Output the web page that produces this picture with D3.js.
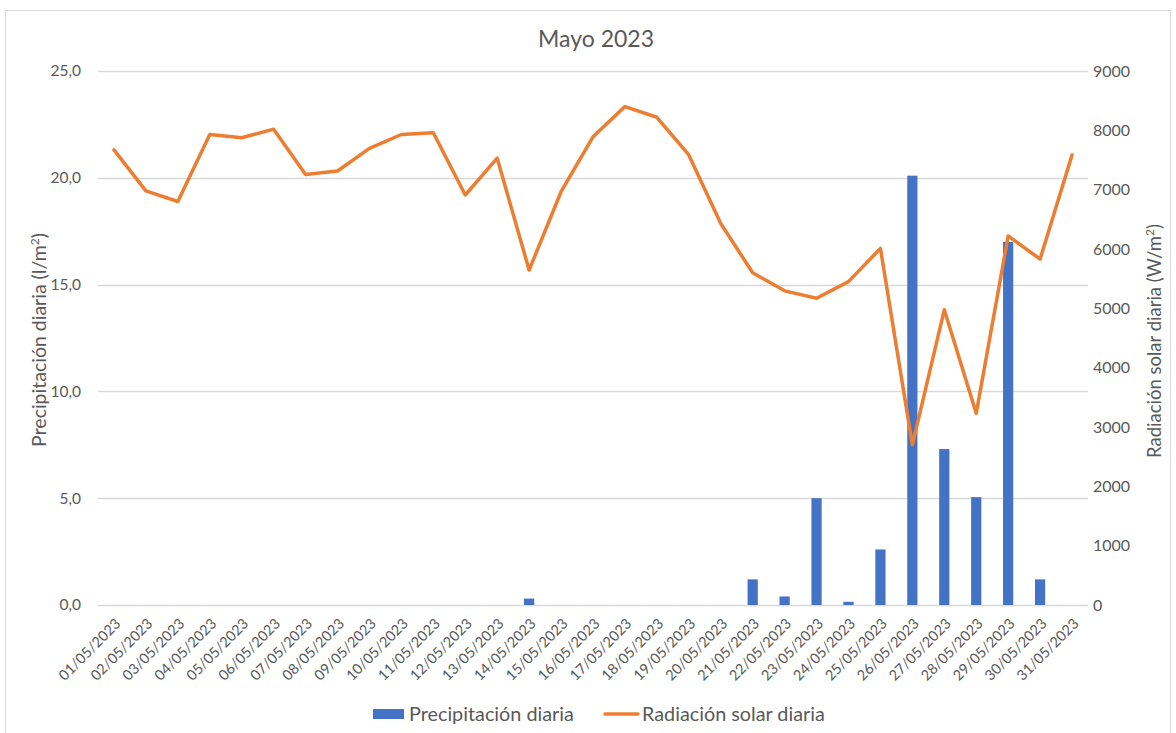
<!DOCTYPE html>
<html>
<head>
<meta charset="utf-8">
<script src="https://cdn.jsdelivr.net/npm/d3@7"></script>
<style>
  body { margin: 0; background: #fff; font-family: Lato, "Open Sans", sans-serif; }
  text { fill: #595959; }
</style>
</head>
<body>
<script>
// Chart data
var days = ["01/05/2023","02/05/2023","03/05/2023","04/05/2023","05/05/2023","06/05/2023",
  "07/05/2023","08/05/2023","09/05/2023","10/05/2023","11/05/2023","12/05/2023","13/05/2023",
  "14/05/2023","15/05/2023","16/05/2023","17/05/2023","18/05/2023","19/05/2023","20/05/2023",
  "21/05/2023","22/05/2023","23/05/2023","24/05/2023","25/05/2023","26/05/2023","27/05/2023",
  "28/05/2023","29/05/2023","30/05/2023","31/05/2023"];

var precipitation = [0,0,0,0,0,0,0,0,0,0,0,0,0,0.3,0,0,0,0,0,0,
  1.2,0.4,5.0,0.15,2.6,20.1,7.3,5.05,17.0,1.2,0];

var radiation = [7670,6980,6800,7930,7875,8020,7255,7315,7695,7930,7960,6910,7530,
  5645,6965,7890,8400,8220,7585,6430,5600,5295,5170,5450,6010,2700,4975,3230,6220,5830,7585];

var leftTicks = [0,5,10,15,20,25];
var rightTicks = [0,1000,2000,3000,4000,5000,6000,7000,8000,9000];

var width = 1176,
    height = 733;

var margin = {left: 98, right: 88, top: 71, bottom: 128};
var plotRight = width - margin.right,
    plotBottom = height - margin.bottom;

var svg = d3.select("body").append("svg")
  .attr("width", width)
  .attr("height", height);

// Chart border
svg.append("rect")
  .attr("x", 5.5).attr("y", 10.5)
  .attr("width", width - 11).attr("height", height - 10)
  .attr("fill", "none")
  .attr("stroke", "#d9d9d9");

// Scales
var x = d3.scaleBand()
  .domain(days)
  .range([margin.left, plotRight])
  .paddingInner(0.68)
  .paddingOuter(0.34);

var yLeft = d3.scaleLinear().domain([0, 25]).range([plotBottom, margin.top]);
var yRight = d3.scaleLinear().domain([0, 9000]).range([plotBottom, margin.top]);

var fmt = function(d){ return d3.format(".1f")(d).replace(".", ","); };

// Gridlines
svg.append("g").selectAll("line")
  .data(leftTicks)
  .enter().append("line")
  .attr("x1", margin.left).attr("x2", plotRight)
  .attr("y1", function(d){ return Math.round(yLeft(d)) + 0.5; })
  .attr("y2", function(d){ return Math.round(yLeft(d)) + 0.5; })
  .attr("stroke", "#d9d9d9")
  .attr("stroke-width", 1.3);

// Left axis
var leftAxis = svg.append("g")
  .attr("transform", "translate(" + (margin.left - 14) + ",0)")
  .call(d3.axisLeft(yLeft).tickValues(leftTicks).tickFormat(fmt).tickSize(0));
leftAxis.select(".domain").remove();
leftAxis.selectAll("text").attr("font-size", 15.5).attr("font-family", "Lato").attr("fill", "#595959");

// Right axis
var rightAxis = svg.append("g")
  .attr("transform", "translate(" + (plotRight + 2) + ",0)")
  .call(d3.axisRight(yRight).tickValues(rightTicks).tickFormat(d3.format("d")).tickSize(0));
rightAxis.select(".domain").remove();
rightAxis.selectAll("text").attr("font-size", 16).attr("font-family", "Lato").attr("fill", "#595959");

// Bottom axis labels
var bottomAxis = svg.append("g")
  .attr("transform", "translate(0," + plotBottom + ")")
  .call(d3.axisBottom(x).tickSize(0));
bottomAxis.select(".domain").remove();
bottomAxis.selectAll("text")
  .attr("font-size", 14.5)
  .attr("font-family", "Lato")
  .attr("fill", "#595959")
  .attr("text-anchor", "end")
  .attr("transform", "translate(4,16) rotate(-45)")
  .attr("dy", "0.35em")
  .attr("y", 0);

// Bars
svg.append("g").selectAll("rect")
  .data(precipitation)
  .enter().append("rect")
  .attr("x", function(d, i){ return x(days[i]); })
  .attr("width", x.bandwidth())
  .attr("y", function(d){ return yLeft(d); })
  .attr("height", function(d){ return plotBottom - yLeft(d); })
  .attr("fill", "#4472C4");

// Line
var line = d3.line()
  .x(function(d, i){ return x(days[i]) + x.bandwidth() / 2; })
  .y(function(d){ return yRight(d); });

svg.append("path")
  .datum(radiation)
  .attr("d", line)
  .attr("fill", "none")
  .attr("stroke", "#ED7D31")
  .attr("stroke-width", 3.5)
  .attr("stroke-linejoin", "round")
  .attr("stroke-linecap", "round");

// Title
svg.append("text")
  .attr("x", 596).attr("y", 47)
  .attr("text-anchor", "middle")
  .attr("font-size", 23)
  .text("Mayo 2023");

// Axis titles
svg.append("text")
  .attr("transform", "translate(46," + ((margin.top + plotBottom) / 2 + 2) + ") rotate(-90)")
  .attr("text-anchor", "middle")
  .attr("font-size", 19.5)
  .html("Precipitación diaria (l/m<tspan font-size='12' dy='-7'>2</tspan><tspan dy='7'>)</tspan>");

svg.append("text")
  .attr("transform", "translate(1161," + ((margin.top + plotBottom) / 2 + 3) + ") rotate(-90)")
  .attr("text-anchor", "middle")
  .attr("font-size", 18.5)
  .html("Radiación solar diaria (W/m<tspan font-size='12' dy='-7'>2</tspan><tspan dy='7'>)</tspan>");

// Legend
var legend = svg.append("g");
legend.append("rect")
  .attr("x", 373).attr("y", 709)
  .attr("width", 31).attr("height", 10)
  .attr("fill", "#4472C4");
legend.append("text")
  .attr("x", 409).attr("y", 721)
  .attr("font-size", 19.8)
  .text("Precipitación diaria");
legend.append("line")
  .attr("x1", 605).attr("x2", 638)
  .attr("y1", 714).attr("y2", 714)
  .attr("stroke", "#ED7D31")
  .attr("stroke-width", 3.5)
  .attr("stroke-linecap", "round");
legend.append("text")
  .attr("x", 642).attr("y", 721)
  .attr("font-size", 19.8)
  .text("Radiación solar diaria");
</script>
</body>
</html>
